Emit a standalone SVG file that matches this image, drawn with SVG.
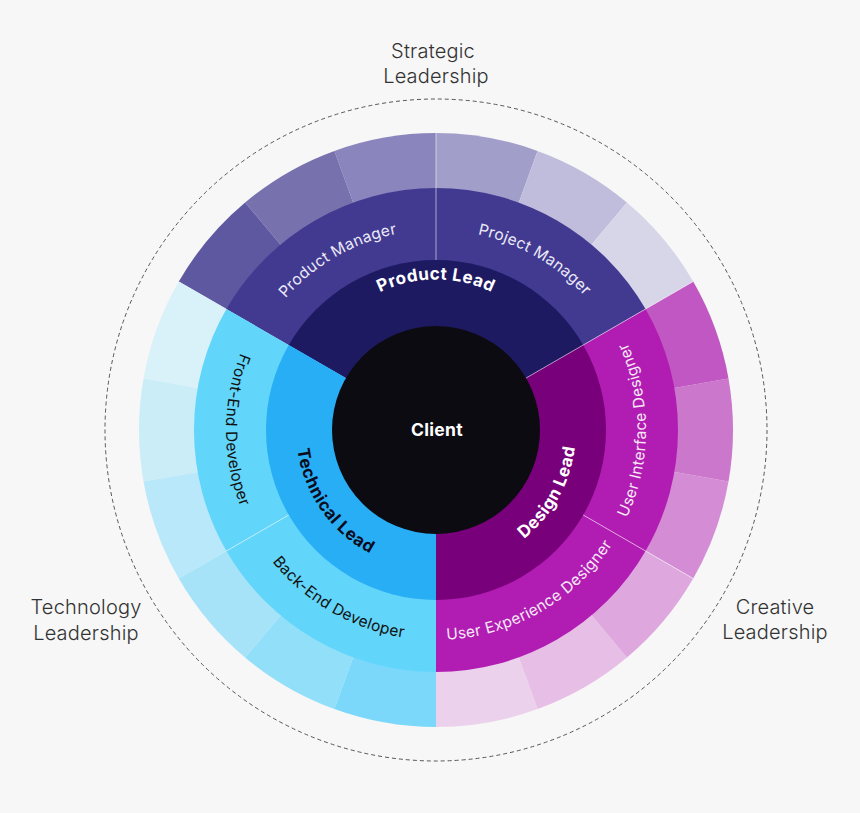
<svg xmlns="http://www.w3.org/2000/svg" xmlns:xlink="http://www.w3.org/1999/xlink" width="860" height="813" viewBox="0 0 860 813">
<style>
.lead{font-family:Inter,"Liberation Sans",sans-serif;font-weight:700;font-size:17px;letter-spacing:0.5px}
.role{font-family:Inter,"Liberation Sans",sans-serif;font-weight:400;font-size:15.5px;letter-spacing:0.3px}
.cap{font-family:Inter,"Liberation Sans",sans-serif;font-weight:300;font-size:20px;letter-spacing:0.2px;fill:#333;text-anchor:middle}
.seam{stroke:#ffffff;stroke-opacity:0.55;stroke-width:1;fill:none}
</style>
<defs>
<path id="tpProductLead" d="M307.97 407.43 A128 128 0 0 1 564.03 407.43"/>
<path id="tpProductMgr" d="M236 430 A200 200 0 0 1 536 256.79"/>
<path id="tpProjectMgr" d="M336 256.79 A200 200 0 0 1 636 430"/>
<path id="tpDesignLead" d="M414.10 568.28 A140 140 0 0 0 541.66 338.15"/>
<path id="tpTechLead" d="M321.32 349.70 A140 140 0 0 0 472.23 565.23"/>
<path id="tpUI" d="M507.82 627.34 A210 210 0 0 0 507.82 232.66"/>
<path id="tpUX" d="M301.01 590.87 A210 210 0 0 0 642.81 393.53"/>
<path id="tpFront" d="M364.18 232.66 A210 210 0 0 0 364.18 627.34"/>
<path id="tpBack" d="M229.19 393.53 A210 210 0 0 0 570.99 590.87"/>
</defs>
<rect x="0" y="0" width="860" height="813" fill="#f7f7f7"/>
<circle cx="436" cy="430" r="331" fill="none" stroke="#555" stroke-width="1" stroke-dasharray="4 3"/>

<g id="outer-ring">
<path d="M436 430 L436 133 A297 297 0 0 0 334.42 150.91 Z" fill="#8a85bc"/>
<path d="M436 430 L334.42 150.91 A297 297 0 0 0 245.09 202.49 Z" fill="#7771ae"/>
<path d="M436 430 L245.09 202.49 A297 297 0 0 0 178.79 281.5 Z" fill="#5e58a1"/>
<path d="M436 430 L537.58 150.91 A297 297 0 0 0 436 133 Z" fill="#a19ec9"/>
<path d="M436 430 L626.91 202.49 A297 297 0 0 0 537.58 150.91 Z" fill="#c0bddc"/>
<path d="M436 430 L693.21 281.5 A297 297 0 0 0 626.91 202.49 Z" fill="#d7d6e8"/>
<path d="M436 430 L178.79 281.5 A297 297 0 0 0 143.51 378.43 Z" fill="#d9f1f9"/>
<path d="M436 430 L143.51 378.43 A297 297 0 0 0 143.51 481.57 Z" fill="#cbedf8"/>
<path d="M436 430 L143.51 481.57 A297 297 0 0 0 178.79 578.5 Z" fill="#b8e8f9"/>
<path d="M436 430 L178.79 578.5 A297 297 0 0 0 245.09 657.51 Z" fill="#a6e3f9"/>
<path d="M436 430 L245.09 657.51 A297 297 0 0 0 334.42 709.09 Z" fill="#92dffa"/>
<path d="M436 430 L334.42 709.09 A297 297 0 0 0 436 727 Z" fill="#7bd8fa"/>
<path d="M436 430 L436 727 A297 297 0 0 0 537.58 709.09 Z" fill="#ecd1ed"/>
<path d="M436 430 L537.58 709.09 A297 297 0 0 0 626.91 657.51 Z" fill="#e6bee6"/>
<path d="M436 430 L626.91 657.51 A297 297 0 0 0 693.21 578.5 Z" fill="#dea8df"/>
<path d="M436 430 L693.21 578.5 A297 297 0 0 0 728.49 481.57 Z" fill="#d48dd5"/>
<path d="M436 430 L728.49 481.57 A297 297 0 0 0 728.49 378.43 Z" fill="#cb77cc"/>
<path d="M436 430 L728.49 378.43 A297 297 0 0 0 693.21 281.5 Z" fill="#c157c2"/>
</g>

<g id="product-manager">
<path d="M436 430 L436 188 A242 242 0 0 0 226.42 309 Z" fill="#423a91"/>
<text class="role" fill="#ebe9f7"><textPath xlink:href="#tpProductMgr" href="#tpProductMgr" startOffset="50%" text-anchor="middle">Product Manager</textPath></text>
</g>
<g id="project-manager">
<path d="M436 430 L645.58 309 A242 242 0 0 0 436 188 Z" fill="#423a91"/>
<text class="role" fill="#ebe9f7"><textPath xlink:href="#tpProjectMgr" href="#tpProjectMgr" startOffset="50%" text-anchor="middle">Project Manager</textPath></text>
</g>
<g id="front-end-developer">
<path d="M436 430 L226.42 309 A242 242 0 0 0 226.42 551 Z" fill="#62d5fa"/>
<text class="role" fill="#111"><textPath xlink:href="#tpFront" href="#tpFront" startOffset="50%" text-anchor="middle">Front-End Developer</textPath></text>
</g>
<g id="back-end-developer">
<path d="M436 430 L226.42 551 A242 242 0 0 0 436 672 Z" fill="#62d5fa"/>
<text class="role" fill="#111"><textPath xlink:href="#tpBack" href="#tpBack" startOffset="50%" text-anchor="middle">Back-End Developer</textPath></text>
</g>
<g id="user-experience-designer">
<path d="M436 430 L436 672 A242 242 0 0 0 645.58 551 Z" fill="#b11db2"/>
<text class="role" fill="#f7e8f7"><textPath xlink:href="#tpUX" href="#tpUX" startOffset="50%" text-anchor="middle">User Experience Designer</textPath></text>
</g>
<g id="user-interface-designer">
<path d="M436 430 L645.58 551 A242 242 0 0 0 645.58 309 Z" fill="#b11db2"/>
<text class="role" fill="#f7e8f7"><textPath xlink:href="#tpUI" href="#tpUI" startOffset="50%" text-anchor="middle">User Interface Designer</textPath></text>
</g>

<g id="product-lead">
<path d="M436 430 L583.22 345 A170 170 0 0 0 288.78 345 Z" fill="#1e1a62"/>
</g>
<g id="technical-lead">
<path d="M436 430 L288.78 345 A170 170 0 0 0 436 600 Z" fill="#27aef4"/>
</g>
<g id="design-lead">
<path d="M436 430 L436 600 A170 170 0 0 0 583.22 345 Z" fill="#78007a"/>
</g>

<g id="seams">
<line class="seam" x1="436" y1="260" x2="436" y2="133"/>
<line class="seam" x1="526.07" y1="378" x2="693.21" y2="281.5"/>
<line class="seam" x1="583.22" y1="515" x2="693.21" y2="578.5"/>
<line class="seam" x1="288.78" y1="515" x2="226.42" y2="551"/>
</g>

<g id="lead-labels">
<text class="lead" fill="#ffffff"><textPath xlink:href="#tpProductLead" href="#tpProductLead" startOffset="50%" text-anchor="middle">Product Lead</textPath></text>
<text class="lead" fill="#0b0b1e"><textPath xlink:href="#tpTechLead" href="#tpTechLead" startOffset="50%" text-anchor="middle">Technical Lead</textPath></text>
<text class="lead" fill="#ffffff"><textPath xlink:href="#tpDesignLead" href="#tpDesignLead" startOffset="50%" text-anchor="middle">Design Lead</textPath></text>
</g>

<g id="client">
<circle cx="436" cy="430" r="104" fill="#0c0b12"/>
<text class="lead" x="437" y="436" fill="#ffffff" text-anchor="middle" style="font-size:17.5px;letter-spacing:0.3px">Client</text>
</g>

<g id="strategic-leadership">
<text class="cap" x="433" y="58">Strategic</text>
<text class="cap" x="436" y="83">Leadership</text>
</g>
<g id="technology-leadership">
<text class="cap" x="86" y="614">Technology</text>
<text class="cap" x="86" y="640">Leadership</text>
</g>
<g id="creative-leadership">
<text class="cap" x="775" y="614">Creative</text>
<text class="cap" x="775" y="639">Leadership</text>
</g>
</svg>
